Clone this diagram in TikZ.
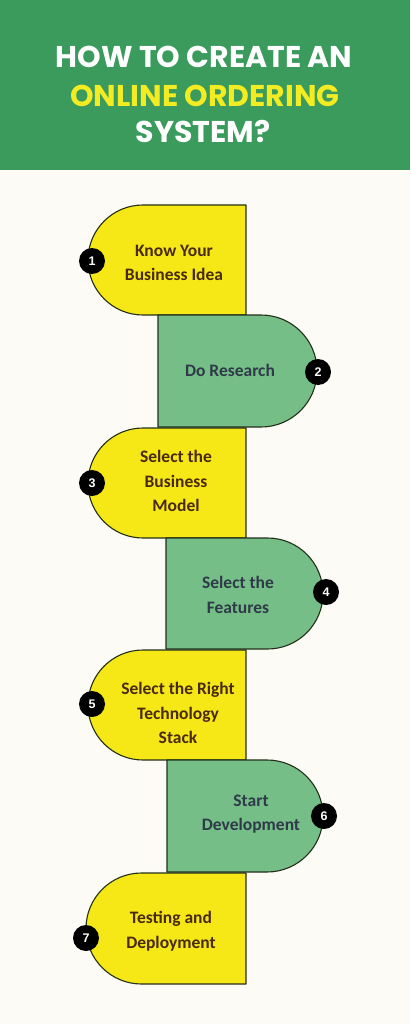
\documentclass[tikz,border=0pt]{standalone}
\usepackage{fontspec}
\newfontfamily\titlefont{Poppins}
\newfontfamily\boxfont{Carlito}
\newfontfamily\numfont{Liberation Sans}
\definecolor{hdr}{HTML}{3A9B5C}
\definecolor{cream}{HTML}{FDFBF5}
\definecolor{ylw}{HTML}{F6E816}
\definecolor{grn}{HTML}{76BE88}
\definecolor{edgec}{HTML}{22301A}
\definecolor{ttlylw}{HTML}{F3EC22}
\definecolor{brownc}{HTML}{4A2A0E}
\definecolor{slatec}{HTML}{2F3A48}
\tikzset{
  ttl/.style={anchor=base, inner sep=0pt, font=\titlefont\bfseries\fontsize{30}{30}\selectfont},
  ybox/.style={fill=ylw, draw=edgec, line width=1.1pt, line join=round},
  gbox/.style={fill=grn, draw=edgec, line width=1.1pt, line join=round},
  ylab/.style={align=center, inner sep=0pt, text=brownc, font=\boxfont\bfseries\fontsize{17.5}{24.5}\selectfont},
  glab/.style={align=center, inner sep=0pt, text=slatec, font=\boxfont\bfseries\fontsize{17.5}{24.5}\selectfont},
  numc/.style={circle, fill=black, minimum size=26pt, inner sep=0pt, text=white, font=\numfont\bfseries\fontsize{12.5}{12.5}\selectfont}
}
\begin{document}
\begin{tikzpicture}[x=1pt,y=1pt]
\useasboundingbox (0,0) rectangle (410,-1024);
\fill[cream] (0,0) rectangle (410,-1024);
\fill[hdr] (0,0) rectangle (410,-170);
\node[ttl, text=white] (t1) at (204,-68) {HOW TO CREATE AN};
\node[ttl, text=ttlylw] (t2) at (205,-107) {ONLINE ORDERING};
\node[ttl, text=white] (t3) at (203,-143) {SYSTEM?};
% step 1
\draw[ybox] (246,-205) -- (143,-205) arc[start angle=90, end angle=270, radius=55] -- (246,-315) -- cycle;
% step 2
\draw[gbox] (158,-315) -- (261,-315) arc[start angle=90, end angle=-90, radius=56] -- (158,-427) -- cycle;
% step 3
\draw[ybox] (246,-428) -- (143,-428) arc[start angle=90, end angle=270, radius=55] -- (246,-538) -- cycle;
% step 4
\draw[gbox] (166,-538) -- (267.5,-538) arc[start angle=90, end angle=-90, radius=55.5] -- (166,-649) -- cycle;
% step 5
\draw[ybox] (246,-650) -- (143,-650) arc[start angle=90, end angle=270, radius=55] -- (246,-760) -- cycle;
% step 6
\draw[gbox] (167,-760) -- (267,-760) arc[start angle=90, end angle=-90, radius=56] -- (167,-872) -- cycle;
% step 7
\draw[ybox] (246,-873) -- (141.5,-873) arc[start angle=90, end angle=270, radius=55.5] -- (246,-984) -- cycle;
% labels
\node[ylab] (l1) at (174,-263) {Know Your\\Business Idea};
\node[glab] (l2) at (230,-370.5) {Do Research};
\node[ylab] (l3) at (176,-481) {Select the\\Business\\Model};
\node[glab] (l4) at (238,-595) {Select the\\Features};
\node[ylab] (l5) at (178,-713) {Select the Right\\Technology\\Stack};
\node[glab] (l6) at (251,-814) {Start\\Development};
\node[ylab] (l7) at (171,-931) {Testing and\\Deployment};
% numbers
\node[numc] (c1) at (92,-261) {1};
\node[numc] (c2) at (318,-372) {2};
\node[numc] (c3) at (92,-483) {3};
\node[numc] (c4) at (326,-592) {4};
\node[numc] (c5) at (92,-704) {5};
\node[numc] (c6) at (324,-816) {6};
\node[numc] (c7) at (86,-938) {7};
\end{tikzpicture}
\end{document}
